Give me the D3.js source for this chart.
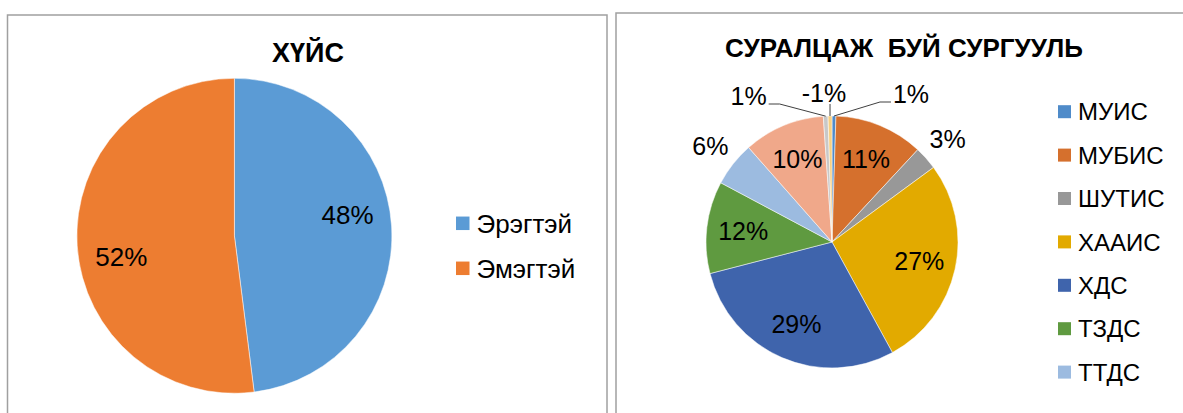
<!DOCTYPE html>
<html>
<head>
<meta charset="utf-8">
<script src="https://cdn.jsdelivr.net/npm/d3@7"></script>
<style>
  body { margin: 0; background: #fff; }
  svg text { font-family: "Liberation Sans", Arial, sans-serif; fill: #000; }
</style>
</head>
<body>
<svg id="chart" width="1183" height="413"></svg>
<script>
// ХҮЙС
const genderCats = ["Эрэгтэй", "Эмэгтэй"];
const genderVals = [48, 52];
const genderColors = ["#5B9BD5", "#ED7D31"];

// СУРАЛЦАЖ БУЙ СУРГУУЛЬ  (the last three series have no legend entry visible in the picture)
const schoolCats = ["МУИС", "МУБИС", "ШУТИС", "ХААИС", "ХДС", "ТЗДС", "ТТДС", "", "", ""];
const schoolVals = [0.5, 11.4, 3.0, 27.1, 28.9, 11.8, 5.7, 10.4, 0.6, -0.5];
const schoolColors = ["#4F8BC9", "#D5702D", "#989898", "#E2AA00", "#3F64AC",
                      "#5F9A40", "#9CBBE0", "#F0A88A", "#C8C8C8", "#F7D082"];

const svg = d3.select("#chart");

// panel frames
svg.append("rect").attr("x", 7.5).attr("y", 15).attr("width", 599.5).attr("height", 430)
    .attr("fill", "none").attr("stroke", "#a0a0a0").attr("stroke-width", 1.5);
svg.append("rect").attr("x", 616).attr("y", 13).attr("width", 600).attr("height", 430)
    .attr("fill", "none").attr("stroke", "#a0a0a0").attr("stroke-width", 1.5);

function pct(v, total) {
    let p = Math.round(Math.abs(v) / total * 100);
    return (v < 0 ? "-" : "") + p + "%";
}

function drawPie(o) {
    let total = d3.sum(o.values, d => Math.abs(d));
    let data = o.values.map((v, i) => ({name: o.cats[i], value: v, color: o.colors[i], i: i}));

    let pie = d3.pie().sort(null).value(d => Math.abs(d.value));
    let arcs = pie(data);
    let arc = d3.arc().innerRadius(0).outerRadius(o.r);
    let labelArc = d3.arc().innerRadius(o.r * o.inR).outerRadius(o.r * o.inR);
    let outArc = d3.arc().innerRadius(o.r * 1.23).outerRadius(o.r * 1.23);
    let edgeArc = d3.arc().innerRadius(o.r).outerRadius(o.r);
    let turn = (o.turn || 0) * Math.PI / 180;

    let g = svg.append("g").attr("transform", "translate(" + o.cx + "," + o.cy + ")");

    g.selectAll("path")
        .data(arcs)
        .enter().append("path")
        .attr("d", arc)
        .attr("fill", d => d.data.color)
        .attr("stroke", "#fff")
        .attr("stroke-width", 0.5);

    // labels: inside for big slices, outside for medium, leader lines for tiny ones
    let tiny = arcs.filter(d => Math.abs(d.data.value) / total < 0.015)
        .map(d => {
            let m = (d.startAngle + d.endAngle) / 2;
            if (m > Math.PI) m -= 2 * Math.PI;
            return {d: d, m: m};
        })
        .sort((a, b) => a.m - b.m);

    arcs.forEach(d => {
        let share = Math.abs(d.data.value) / total;
        if (share < 0.015) return;
        let c;
        if (share >= 0.08) {
            c = labelArc.centroid({startAngle: d.startAngle + turn, endAngle: d.endAngle + turn});
        } else {
            c = outArc.centroid(d);
        }
        g.append("text")
            .attr("x", c[0])
            .attr("y", c[1])
            .attr("dy", "0.36em")
            .attr("text-anchor", "middle")
            .attr("font-size", o.labelSize)
            .text(pct(d.data.value, total));
    });

    let mid = (tiny.length - 1) / 2;
    tiny.forEach((t, k) => {
        let side = Math.sign(k - mid);
        let e = edgeArc.centroid(t.d);
        let ex = e[0] + side * 46;
        let ey = -o.r - 12 - (side > 0 ? 2 : 0);
        let pts = [[e[0], e[1]], [side === 0 ? e[0] : ex, ey]];
        if (side !== 0) pts.push([ex + side * 11, ey]);
        g.append("path")
            .attr("d", d3.line()(pts))
            .attr("fill", "none")
            .attr("stroke", "#404040")
            .attr("stroke-width", 1);
        let txt = g.append("text")
            .attr("font-size", o.labelSize)
            .text(pct(t.d.data.value, total));
        if (side === 0) {
            txt.attr("x", e[0] - 6).attr("y", ey - 2).attr("text-anchor", "middle");
        } else {
            txt.attr("x", ex + side * 13).attr("y", ey + 1)
                .attr("text-anchor", side < 0 ? "end" : "start");
        }
    });

    // title
    svg.append("text")
        .attr("x", o.titleX)
        .attr("y", o.titleY)
        .attr("text-anchor", "middle")
        .attr("font-size", o.titleSize)
        .attr("font-weight", "bold")
        .style("white-space", "pre")
        .text(o.title);

    // legend
    let legend = svg.append("g")
        .selectAll("g")
        .data(data.filter(d => d.name !== ""))
        .enter().append("g")
        .attr("transform", (d, i) => "translate(" + o.legX + "," + (o.legY + i * o.legStep) + ")");

    legend.append("rect")
        .attr("x", 0)
        .attr("y", -o.sw / 2)
        .attr("width", o.sw)
        .attr("height", o.sw)
        .attr("fill", d => d.color);

    legend.append("text")
        .attr("x", o.sw + 7)
        .attr("y", 0)
        .attr("dy", "0.36em")
        .attr("font-size", o.legSize)
        .text(d => d.name);
}

drawPie({
    cats: genderCats, values: genderVals, colors: genderColors,
    cx: 234.4, cy: 235.8, r: 157.5, labelSize: 26, inR: 0.73, turn: -6.8,
    title: "ХҮЙС", titleX: 308, titleY: 62, titleSize: 27,
    legX: 456, legY: 223.3, legStep: 45, sw: 13.5, legSize: 26
});

drawPie({
    cats: schoolCats, values: schoolVals, colors: schoolColors,
    cx: 832, cy: 242, r: 126, labelSize: 25, inR: 0.71,
    title: "СУРАЛЦАЖ  БУЙ СУРГУУЛЬ", titleX: 904, titleY: 57, titleSize: 26,
    legX: 1058, legY: 111.7, legStep: 43.4, sw: 13, legSize: 24
});
</script>
</body>
</html>
